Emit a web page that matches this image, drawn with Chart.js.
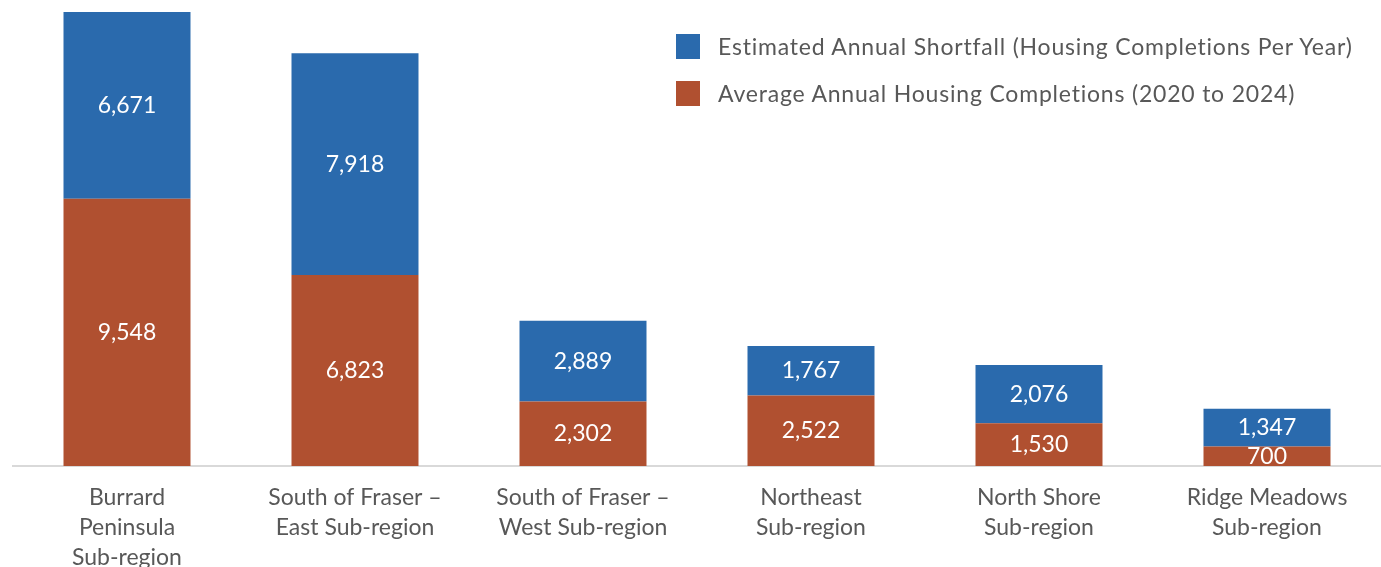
<!DOCTYPE html>
<html>
<head>
<meta charset="utf-8">
<script src="https://cdn.jsdelivr.net/npm/chart.js@4/dist/chart.umd.min.js"></script>
<style>
  html, body { margin: 0; padding: 0; background: #fff; }
  #wrap { position: relative; width: 1381px; height: 567px; }
  #legend { position: absolute; left: 676px; top: 33px; font-family: Lato, "Open Sans", sans-serif; font-size: 23px; letter-spacing: 0.8px; color: #585858; }
  .row { display: flex; align-items: center; height: 26px; margin-bottom: 21px; white-space: nowrap; }
  .box { width: 24px; height: 25px; margin-right: 18px; }
</style>
</head>
<body>
<div id="wrap">
  <canvas id="myChart" width="1381" height="567"></canvas>
  <div id="legend">
    <div class="row"><div class="box" style="background:#2a6aad"></div>Estimated Annual Shortfall (Housing Completions Per Year)</div>
    <div class="row"><div class="box" style="background:#b05030"></div>Average Annual Housing Completions (2020 to 2024)</div>
  </div>
</div>
<script>
// categories
const regions = [
  ["Burrard", "Peninsula", "Sub-region"],
  ["South of Fraser \u2013", "East Sub-region"],
  ["South of Fraser \u2013", "West Sub-region"],
  ["Northeast", "Sub-region"],
  ["North Shore", "Sub-region"],
  ["Ridge Meadows", "Sub-region"]
];
// series
const completions = [9548, 6823, 2302, 2522, 1530, 700];
const shortfall = [6671, 7918, 2889, 1767, 2076, 1347];
const yMax = 16219;

// draw values inside each segment
const segLabels = {
  id: "segLabels",
  afterDatasetsDraw(chart) {
    const c = chart.ctx;
    c.save();
    c.fillStyle = "#fff";
    c.font = "23px Lato, 'Open Sans', sans-serif";
    c.textAlign = "center";
    c.textBaseline = "middle";
    chart.data.datasets.forEach((ds, i) => {
      chart.getDatasetMeta(i).data.forEach((bar, j) => {
        c.fillText(ds.data[j].toLocaleString("en-US"), bar.x, (bar.y + bar.base) / 2);
      });
    });
    c.restore();
  }
};

const ctx = document.getElementById("myChart");
new Chart(ctx, {
  type: "bar",
  data: {
    labels: regions,
    datasets: [
      {
        label: "Average Annual Housing Completions (2020 to 2024)",
        data: completions,
        backgroundColor: "#b05030",
        barPercentage: 0.557,
        categoryPercentage: 1,
      },
      {
        label: "Estimated Annual Shortfall (Housing Completions Per Year)",
        data: shortfall,
        backgroundColor: "#2a6aad",
        barPercentage: 0.557,
        categoryPercentage: 1,
      },
    ],
  },
  options: {
    responsive: false,
    animation: false,
    layout: { padding: { top: 12, left: 13, right: 0, bottom: 0 } },
    plugins: { legend: { display: false }, tooltip: { enabled: false } },
    scales: {
      x: {
        stacked: true,
        grid: { display: false },
        border: { display: true, color: "#d9d9d9", width: 2 },
        ticks: {
          color: "#585858",
          font: { family: "Lato, 'Open Sans', sans-serif", size: 23, lineHeight: 1.3 },
          padding: 9,
          maxRotation: 0,
          autoSkip: false,
        },
        afterFit(scale) { scale.height = 101; },
      },
      y: {
        stacked: true,
        display: false,
        min: 0,
        max: yMax,
      },
    },
  },
  plugins: [segLabels],
});
</script>
</body>
</html>
